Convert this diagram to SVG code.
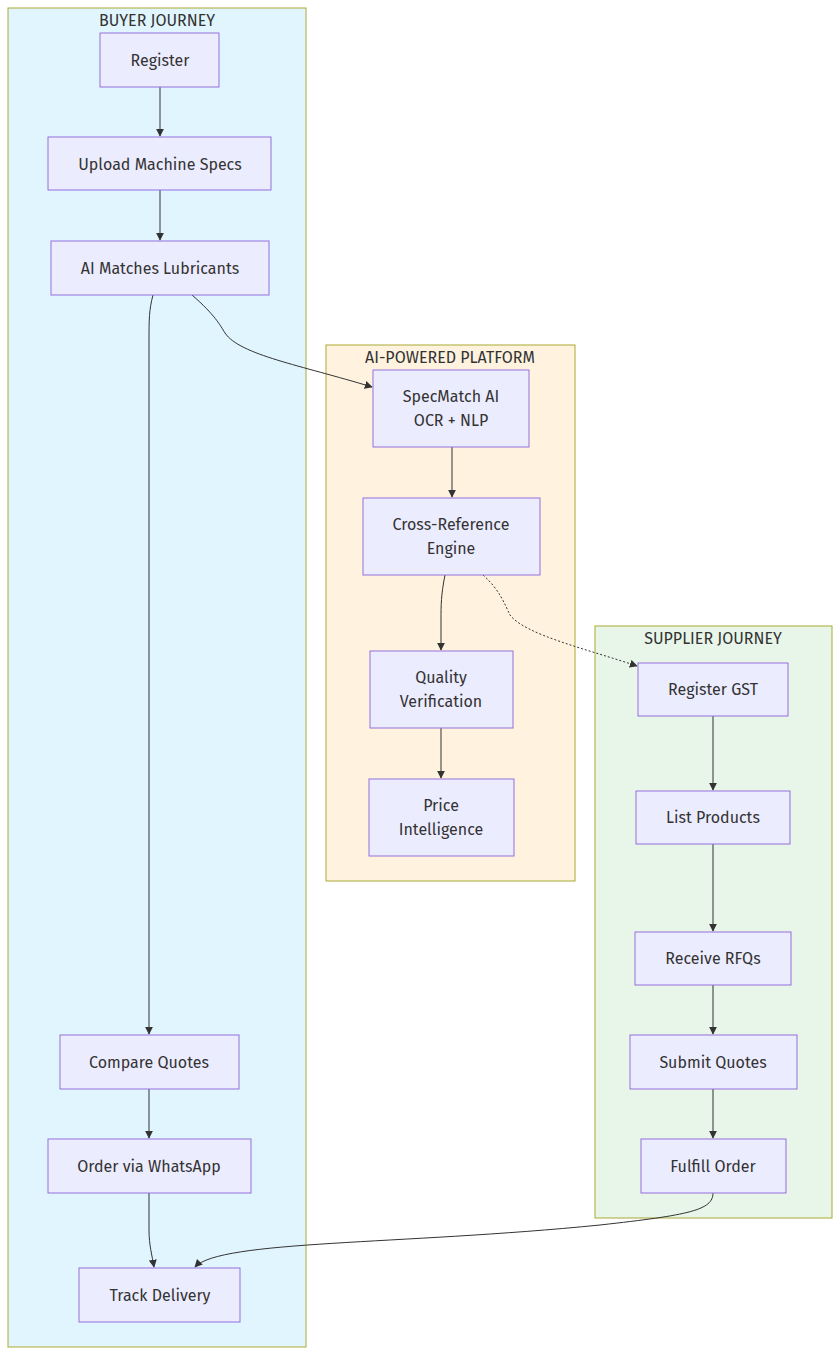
<svg xmlns="http://www.w3.org/2000/svg" width="840" height="1356" viewBox="0 0 840 1356">
<style>
text{font-family:"Fira Sans","Open Sans","Noto Sans",sans-serif;font-size:16px;fill:#333;text-anchor:middle;dominant-baseline:central}
.n rect{fill:#ECECFF;stroke:#9370DB;stroke-width:1}
.c{stroke:#aaaa33;stroke-width:1}
.e path{fill:none;stroke:#333;stroke-width:1;marker-end:url(#a)}
</style>
<defs><marker id="a" viewBox="0 0 10 10" refX="9" refY="5" markerWidth="8" markerHeight="8" orient="auto"><path d="M0,0L10,5L0,10z" fill="#333"/></marker></defs>
<rect width="840" height="1356" fill="#fff"/>
<g id="buyer"><rect class="c" x="8" y="8" width="298" height="1339" fill="#e1f5fe"/><text x="157" y="20">BUYER JOURNEY</text></g>
<g id="platform"><rect class="c" x="326" y="345" width="249" height="536" fill="#fff3e0"/><text x="450" y="357">AI-POWERED PLATFORM</text></g>
<g id="supplier"><rect class="c" x="595" y="626" width="237" height="592" fill="#e8f5e9"/><text x="713" y="638">SUPPLIER JOURNEY</text></g>
<g class="e" id="edges">
<path d="M160,87V136"/>
<path d="M160,190V240"/>
<path d="M153,295C149,310 149,320 149,340V1034"/>
<path d="M192,295C215,315 220,325 225,333C240,355 300,365 372,387"/>
<path d="M452,447V497"/>
<path d="M445,575C441,595 441,605 441,620V650"/>
<path d="M441,728V778"/>
<path d="M483,575C500,590 505,605 510,615C525,635 590,650 637,666" stroke-dasharray="2,2"/>
<path d="M713,716V790"/>
<path d="M713,844V931"/>
<path d="M713,985V1034"/>
<path d="M713,1089V1138"/>
<path d="M149,1089V1138"/>
<path d="M149,1193V1230C149,1245 152,1255 154,1267"/>
<path d="M713,1193C713,1210 690,1215 600,1225C400,1245 220,1240 195,1267"/>
</g>
<g id="register" class="n"><rect x="100" y="33" width="119" height="54"/><text x="160" y="60">Register</text></g>
<g id="upload" class="n"><rect x="48" y="137" width="223" height="53"/><text x="160" y="164">Upload Machine Specs</text></g>
<g id="aimatch" class="n"><rect x="51" y="241" width="218" height="54"/><text x="160" y="268">AI Matches Lubricants</text></g>
<g id="specmatch" class="n"><rect x="373" y="370" width="156" height="77"/><text x="451" y="396">SpecMatch AI</text><text x="451" y="420">OCR + NLP</text></g>
<g id="crossref" class="n"><rect x="363" y="498" width="177" height="77"/><text x="451" y="524">Cross-Reference</text><text x="451" y="548">Engine</text></g>
<g id="quality" class="n"><rect x="370" y="651" width="143" height="77"/><text x="441" y="677">Quality</text><text x="441" y="701">Verification</text></g>
<g id="price" class="n"><rect x="369" y="779" width="145" height="77"/><text x="441" y="805">Price</text><text x="441" y="829">Intelligence</text></g>
<g id="gst" class="n"><rect x="638" y="663" width="150" height="53"/><text x="713" y="689">Register GST</text></g>
<g id="list" class="n"><rect x="636" y="791" width="154" height="53"/><text x="713" y="817">List Products</text></g>
<g id="rfq" class="n"><rect x="635" y="932" width="156" height="53"/><text x="713" y="958">Receive RFQs</text></g>
<g id="submit" class="n"><rect x="630" y="1035" width="167" height="54"/><text x="713" y="1062">Submit Quotes</text></g>
<g id="fulfill" class="n"><rect x="641" y="1139" width="145" height="54"/><text x="713" y="1166">Fulfill Order</text></g>
<g id="compare" class="n"><rect x="60" y="1035" width="179" height="54"/><text x="149" y="1062">Compare Quotes</text></g>
<g id="order" class="n"><rect x="48" y="1139" width="203" height="54"/><text x="149" y="1166">Order via WhatsApp</text></g>
<g id="track" class="n"><rect x="79" y="1268" width="161" height="54"/><text x="160" y="1295">Track Delivery</text></g>
</svg>
